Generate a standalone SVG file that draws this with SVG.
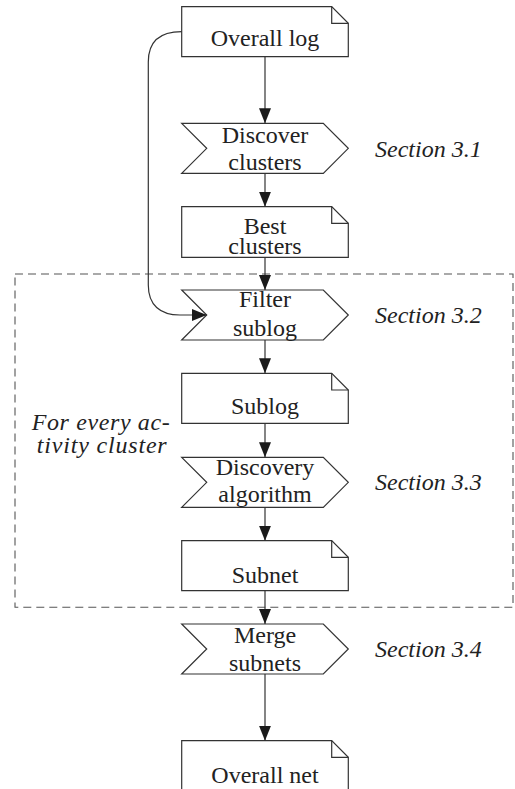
<svg xmlns="http://www.w3.org/2000/svg" width="515" height="789" viewBox="0 0 515 789">
  <style>
    .shape { fill: #ffffff; stroke: #333333; stroke-width: 1.2; }
    .fold { fill: none; stroke: #333333; stroke-width: 1.2; }
    .label { font-size: 24px; fill: #222222; text-anchor: middle; }
    .note { font-style: italic; font-size: 24px; fill: #222222; }
    .edge { fill: none; stroke: #333333; stroke-width: 1.2; }
    .frame { fill: none; stroke: #555555; stroke-width: 1.1; stroke-dasharray: 8 5; }
  </style>
  <defs>
    <marker id="arrow" markerUnits="userSpaceOnUse" markerWidth="16" markerHeight="13" refX="15" refY="6" orient="auto">
      <path d="M0,0 L15,6 L0,12 Z" fill="#1a1a1a"/>
    </marker>
  </defs>

  <rect width="515" height="789" fill="#ffffff"/>

  <!-- loop region -->
  <rect id="loop-frame" class="frame" x="15" y="274" width="498" height="333.3"/>
  <g id="loop-note" class="note">
    <text font-family="Liberation Serif" x="31.7" y="430" textLength="138" lengthAdjust="spacing">For every ac-</text>
    <text font-family="Liberation Serif" x="36.7" y="453.3" textLength="130" lengthAdjust="spacing">tivity cluster</text>
  </g>

  <!-- nodes -->
  <g id="overall-log">
    <path class="shape" d="M181.7,6.7 H331.7 L348.3,23.3 V56.7 H181.7 Z"/>
    <path class="fold" d="M331.7,6.7 V23.3 H348.3"/>
    <text class="label" font-family="Liberation Serif" x="265" y="45.7">Overall log</text>
  </g>

  <g id="discover-clusters">
    <path class="shape" d="M181.7,123.3 H323.3 L348.3,148.3 L323.3,173.3 H181.7 L206.7,148.3 Z"/>
    <text class="label" font-family="Liberation Serif" x="265" y="143.3">Discover</text>
    <text class="label" font-family="Liberation Serif" x="265" y="169.5">clusters</text>
  </g>

  <g id="best-clusters">
    <path class="shape" d="M181.7,206.7 H331.7 L348.3,223.3 V257.3 H181.7 Z"/>
    <path class="fold" d="M331.7,206.7 V223.3 H348.3"/>
    <text class="label" font-family="Liberation Serif" x="265" y="234.3">Best</text>
    <text class="label" font-family="Liberation Serif" x="265" y="254">clusters</text>
  </g>

  <g id="filter-sublog">
    <path class="shape" d="M181.7,290 H323.3 L348.3,315 L323.3,340 H181.7 L206.7,315 Z"/>
    <text class="label" font-family="Liberation Serif" x="265" y="306.7">Filter</text>
    <text class="label" font-family="Liberation Serif" x="265" y="335.5">sublog</text>
  </g>

  <g id="sublog">
    <path class="shape" d="M181.7,373.3 H331.7 L348.3,390 V423.3 H181.7 Z"/>
    <path class="fold" d="M331.7,373.3 V390 H348.3"/>
    <text class="label" font-family="Liberation Serif" x="265" y="414">Sublog</text>
  </g>

  <g id="discovery-algorithm">
    <path class="shape" d="M181.7,457.3 H323.3 L348.3,482.3 L323.3,507.3 H181.7 L206.7,482.3 Z"/>
    <text class="label" font-family="Liberation Serif" x="265" y="475">Discovery</text>
    <text class="label" font-family="Liberation Serif" x="265" y="501.5">algorithm</text>
  </g>

  <g id="subnet">
    <path class="shape" d="M181.7,540.7 H331.7 L348.3,557.3 V590.7 H181.7 Z"/>
    <path class="fold" d="M331.7,540.7 V557.3 H348.3"/>
    <text class="label" font-family="Liberation Serif" x="265" y="583.3">Subnet</text>
  </g>

  <g id="merge-subnets">
    <path class="shape" d="M181.7,624 H323.3 L348.3,649 L323.3,674 H181.7 L206.7,649 Z"/>
    <text class="label" font-family="Liberation Serif" x="265" y="643">Merge</text>
    <text class="label" font-family="Liberation Serif" x="265" y="671">subnets</text>
  </g>

  <g id="overall-net">
    <path class="shape" d="M181.7,740.7 H331.7 L348.3,757.3 V800 H181.7 Z"/>
    <path class="fold" d="M331.7,740.7 V757.3 H348.3"/>
    <text class="label" font-family="Liberation Serif" x="265" y="783">Overall net</text>
  </g>

  <!-- section references -->
  <g id="section-notes" class="note">
    <text font-family="Liberation Serif" x="375" y="156.7">Section 3.1</text>
    <text font-family="Liberation Serif" x="375" y="323.3">Section 3.2</text>
    <text font-family="Liberation Serif" x="375" y="490">Section 3.3</text>
    <text font-family="Liberation Serif" x="375" y="657">Section 3.4</text>
  </g>

  <!-- connectors -->
  <g id="connectors" class="edge" marker-end="url(#arrow)">
    <path d="M265,56.7 V123.3"/>
    <path d="M265,173.3 V206.7"/>
    <path d="M265,257.3 V290"/>
    <path d="M265,340 V373.3"/>
    <path d="M265,423.3 V457.3"/>
    <path d="M265,507.3 V540.7"/>
    <path d="M265,590.7 V624"/>
    <path d="M265,674 V740.7"/>
    <path d="M181.7,31.7 C160,31.7 148.3,42 148.3,62 V285 C148.3,305 160,315 180,315 H206.7"/>
  </g>
</svg>
